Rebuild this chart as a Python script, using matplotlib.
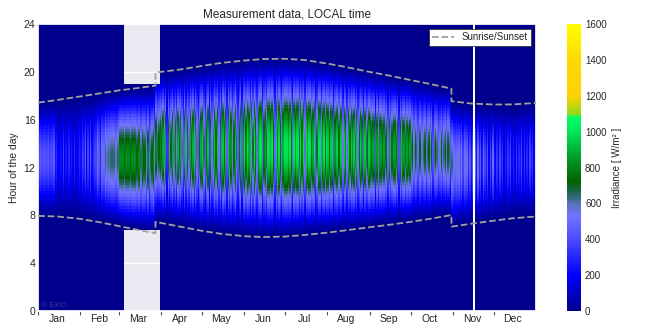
import numpy as np
import matplotlib
matplotlib.use("Agg")
import matplotlib.pyplot as plt
import seaborn as sns
from matplotlib.colors import LinearSegmentedColormap

# month info
months = ["Jan", "Feb", "Mar", "Apr", "May", "Jun",
          "Jul", "Aug", "Sep", "Oct", "Nov", "Dec"]
month_len = [31, 28, 31, 30, 31, 30, 31, 31, 30, 31, 30, 31]

# sunrise / sunset (local time, hours)
sun_day = [0, 14, 31, 45, 59, 73, 85.99, 86, 104, 120, 134, 151, 165, 181,
           195, 212, 226, 243, 257, 273, 287, 302.99, 303, 318, 334, 348, 365]
sunrise = [7.95, 7.90, 7.70, 7.42, 7.10, 6.78, 6.50, 7.45, 7.05, 6.70, 6.45,
           6.25, 6.18, 6.22, 6.35, 6.55, 6.75, 7.00, 7.20, 7.45, 7.70, 8.02,
           7.05, 7.30, 7.55, 7.75, 7.90]
sunset = [17.43, 17.65, 17.95, 18.20, 18.45, 18.65, 18.85, 19.95, 20.20,
          20.50, 20.75, 20.95, 21.08, 21.10, 21.00, 20.70, 20.40, 20.00,
          19.70, 19.32, 19.00, 18.60, 17.55, 17.35, 17.27, 17.28, 17.40]

# clear-day noon irradiance per month [W/m2]
peak = [450, 650, 820, 900, 950, 1000, 1000, 960, 870, 720, 560, 440]

# daily clearness 0 (overcast) .. 9 (clear), one string per month
clearness = [
    "8988988978895643547353645362446",
    "3546253634558648779898999889",
    "9999899989999899798869578969789",
    "796938579685979649586979596479",
    "9647938569795849794968579647948",
    "979859697589947869989749697589",
    "9989749899697959899789469958979",
    "9799489979959859798969579849679",
    "989949699897859689979496997989",
    "8979869978968979589867968979858",
    "989897969885747584957486473648",
    "5474857364758463746584736485748",
]

# gaps in the record
night_gap_days = (63, 89)      # night values missing
night_gap_hours = (6.75, 18.9)
blank_days = [319]

# build the grid (day x quarter hour)
n_days = sum(month_len)
day_edges = np.arange(n_days + 1)
hour_edges = np.linspace(0, 24, 97)
hours = 0.5 * (hour_edges[:-1] + hour_edges[1:])

k_day = np.array([int(c) for s in clearness for c in s], dtype=float)
peak_day = np.repeat(peak, month_len).astype(float)
mid = np.arange(n_days) + 0.5
rise_d = np.interp(mid, sun_day, sunrise)
set_d = np.interp(mid, sun_day, sunset)

frac = (hours[:, None] - rise_d[None, :]) / (set_d - rise_d)[None, :]
shape = np.where((frac > 0) & (frac < 1),
                 np.sin(np.pi * np.clip(frac, 0, 1)) ** 1.25, 0.0)
Z = shape * (peak_day * (0.06 + 0.94 * k_day / 9.0))[None, :]

d0, d1 = night_gap_days
night = (hours < night_gap_hours[0]) | (hours > night_gap_hours[1])
Z[np.ix_(night, np.arange(d0, d1))] = np.nan
Z = np.ma.masked_invalid(Z)

cmap = LinearSegmentedColormap.from_list("irr", [
    (0.0, (0.0, 0.0, 0.55)),
    (0.125, (0.0, 0.0, 1.0)),
    (0.25, (0.30, 0.30, 1.0)),
    (0.33, (0.45, 0.45, 1.0)),
    (0.37, (0.35, 0.45, 0.75)),
    (0.406, (0.15, 0.40, 0.40)),
    (0.45, (0.0, 0.38, 0.0)),
    (0.53, (0.0, 0.60, 0.15)),
    (0.625, (0.0, 0.90, 0.35)),
    (0.675, (0.0, 1.0, 0.40)),
    (0.69, (0.60, 0.85, 0.10)),
    (0.75, (1.0, 0.82, 0.0)),
    (0.875, (1.0, 0.85, 0.0)),
    (1.0, (1.0, 1.0, 0.0)),
])
cmap.set_bad((0, 0, 0, 0))

sns.set_theme(style="darkgrid")
plt.rcParams["font.family"] = ["Liberation Sans", "DejaVu Sans"]

fig = plt.figure(figsize=(6.7, 3.35), dpi=100)
ax = fig.add_axes([0.057, 0.072, 0.743, 0.856])
cax = fig.add_axes([0.846, 0.072, 0.021, 0.856])

mesh = ax.pcolormesh(day_edges, hour_edges, Z, cmap=cmap, vmin=0, vmax=1600,
                     shading="flat", rasterized=True)
for d in blank_days:
    ax.axvspan(d, d + 1.5, color="white", lw=0, zorder=3)

ax.plot(sun_day, sunrise, ls="--", color="#a0a0a0", lw=1.3, zorder=4,
        label="Sunrise/Sunset")
ax.plot(sun_day, sunset, ls="--", color="#a0a0a0", lw=1.3, zorder=4)

ax.set_xlim(0, n_days)
ax.set_ylim(0, 24)
ax.set_yticks(np.arange(0, 25, 4))
month_start = np.concatenate([[0], np.cumsum(month_len)[:-1]])
ax.set_xticks(month_start + 14)
ax.set_xticklabels(months)
ax.set_xticks(month_start, minor=True)
ax.grid(False, axis="x")
ax.tick_params(axis="both", which="major", labelsize=7.5, length=0, pad=2)
ax.tick_params(axis="x", which="minor", length=3, width=0.8,
               color="#555555", direction="out", bottom=True)
ax.set_ylabel("Hour of the day", fontsize=7.5, labelpad=3)
ax.set_title("Measurement data, LOCAL time", fontsize=8.5, pad=5)
ax.text(0.005, 0.012, "© EKO", transform=ax.transAxes, fontsize=6,
        color="#7070a0", alpha=0.5, zorder=5)

leg = ax.legend(loc="upper right", fontsize=7, frameon=True, fancybox=False,
                borderpad=0.35, handlelength=2.2)
leg.get_frame().set_facecolor("white")
leg.get_frame().set_edgecolor("#333333")
leg.get_frame().set_linewidth(0.6)
leg.get_frame().set_alpha(1)

cb = fig.colorbar(mesh, cax=cax)
cb.set_ticks(np.arange(0, 1601, 200))
cb.ax.tick_params(labelsize=7, length=0, pad=3)
cb.outline.set_visible(False)
cb.set_label("Irradiance [ W/m² ]", fontsize=7)

fig.savefig("out.png", dpi=100)
